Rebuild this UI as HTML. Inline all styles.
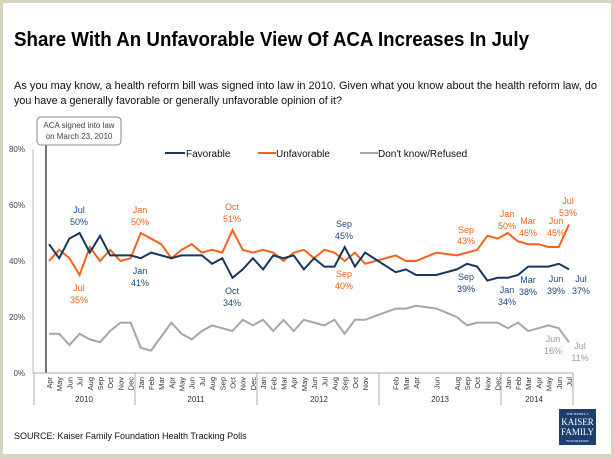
<!DOCTYPE html>
<html><head><meta charset="utf-8"><style>
body{margin:0;background:#fff}
svg{display:block;font-family:"Liberation Sans",sans-serif}
</style></head><body>
<svg width="614" height="459" viewBox="0 0 614 459" xmlns="http://www.w3.org/2000/svg">
<rect x="0" y="0" width="614" height="459" fill="#d8d3c0"/>
<rect x="3" y="3" width="608" height="451" fill="#fff"/>
<text x="14" y="46" font-size="20" font-weight="bold" fill="#000" textLength="515" lengthAdjust="spacingAndGlyphs">Share With An Unfavorable View Of ACA Increases In July</text>
<text x="14" y="89" font-size="11" fill="#111" textLength="583" lengthAdjust="spacingAndGlyphs">As you may know, a health reform bill was signed into law in 2010. Given what you know about the health reform law, do</text>
<text x="14" y="104" font-size="11" fill="#111" textLength="328" lengthAdjust="spacingAndGlyphs">you have a generally favorable or generally unfavorable opinion of it?</text>
<rect x="37" y="117" width="84" height="28" rx="4" fill="#fff" stroke="#888" stroke-width="1"/>
<text x="79" y="128" font-size="8" fill="#444" text-anchor="middle">ACA signed into law</text>
<text x="79" y="139" font-size="8" fill="#444" text-anchor="middle">on March 23, 2010</text>
<line x1="46" y1="145" x2="46" y2="373" stroke="#777" stroke-width="2"/>
<g font-size="8" fill="#444" text-anchor="end">
<text x="25" y="152">80%</text><text x="25" y="208">60%</text><text x="25" y="264">40%</text><text x="25" y="320">20%</text><text x="25" y="376">0%</text>
</g>
<line x1="33" y1="149" x2="33" y2="373" stroke="#bbb"/>
<line x1="33" y1="373" x2="573" y2="373" stroke="#aaa"/>
<g stroke="#aaa"><line x1="34" y1="373" x2="34" y2="405"/><line x1="135" y1="373" x2="135" y2="405"/><line x1="257" y1="373" x2="257" y2="405"/><line x1="379" y1="373" x2="379" y2="405"/><line x1="501" y1="373" x2="501" y2="405"/><line x1="573" y1="373" x2="573" y2="405"/></g>
<g font-size="8" fill="#333" text-anchor="middle">
<text x="84" y="402">2010</text><text x="196" y="402">2011</text><text x="319" y="402">2012</text><text x="440" y="402">2013</text><text x="534" y="402">2014</text>
</g>
<g id="months" font-size="7.5" fill="#333" text-anchor="end"></g>
<g font-size="10" fill="#111">
<line x1="165" y1="153" x2="185" y2="153" stroke="#17375e" stroke-width="2"/><text x="186" y="157">Favorable</text>
<line x1="258" y1="153" x2="276" y2="153" stroke="#f4621c" stroke-width="2"/><text x="276" y="157">Unfavorable</text>
<line x1="360" y1="153" x2="378" y2="153" stroke="#a6a6a6" stroke-width="2"/><text x="378" y="157">Don't know/Refused</text>
</g>
<polyline id="g" fill="none" stroke="#a6a6a6" stroke-width="2"/>
<polyline id="u" fill="none" stroke="#f4621c" stroke-width="2"/>
<polyline id="f" fill="none" stroke="#17375e" stroke-width="2"/>
<g font-size="9" text-anchor="middle">
<g fill="#1f497d">
<text x="79" y="213">Jul</text><text x="79" y="225">50%</text>
<text x="140" y="274">Jan</text><text x="140" y="286">41%</text>
<text x="232" y="294">Oct</text><text x="232" y="306">34%</text>
<text x="344" y="227">Sep</text><text x="344" y="239">45%</text>
<text x="466" y="280">Sep</text><text x="466" y="292">39%</text>
<text x="507" y="293">Jan</text><text x="507" y="305">34%</text>
<text x="528" y="283">Mar</text><text x="528" y="295">38%</text>
<text x="556" y="282">Jun</text><text x="556" y="294">39%</text>
<text x="581" y="282">Jul</text><text x="581" y="294">37%</text>
</g>
<g fill="#f4621c">
<text x="79" y="291">Jul</text><text x="79" y="303">35%</text>
<text x="140" y="213">Jan</text><text x="140" y="225">50%</text>
<text x="232" y="210">Oct</text><text x="232" y="222">51%</text>
<text x="344" y="277">Sep</text><text x="344" y="289">40%</text>
<text x="466" y="233">Sep</text><text x="466" y="244">43%</text>
<text x="507" y="217">Jan</text><text x="507" y="229">50%</text>
<text x="528" y="224">Mar</text><text x="528" y="236">46%</text>
<text x="556" y="224">Jun</text><text x="556" y="236">45%</text>
<text x="568" y="204">Jul</text><text x="568" y="216">53%</text>
</g>
<g fill="#999">
<text x="553" y="342">Jun</text><text x="553" y="354">16%</text>
<text x="580" y="349">Jul</text><text x="580" y="361">11%</text>
</g>
</g>
<text x="14" y="439" font-size="9" fill="#111">SOURCE: Kaiser Family Foundation Health Tracking Polls</text>
<rect x="559" y="409" width="37" height="36" fill="#1c3f6e"/>
<g fill="#fff" font-family="Liberation Serif,serif" text-anchor="middle">
<text x="577.5" y="415" font-size="3.5">THE HENRY J.</text>
<text x="577.5" y="425" font-size="9">KAISER</text>
<text x="577.5" y="435" font-size="9">FAMILY</text>
<text x="577.5" y="442" font-size="3.5">FOUNDATION</text>
</g>
<script>
var F=[46,41,48,50,43,49,42,42,42,41,43,42,41,42,42,42,39,41,34,37,41,37,42,41,42,37,41,38,38,45,38,43,null,null,36,37,35,null,35,null,37,39,38,33,34,34,35,38,38,38,39,37];
var U=[40,44,41,35,45,40,44,40,41,50,48,46,41,44,46,43,44,43,51,44,43,44,43,40,43,44,41,44,43,40,43,39,null,null,42,40,40,null,43,null,42,43,44,49,48,50,47,46,46,45,45,53];
var G=[14,14,10,14,12,11,15,18,18,9,8,13,18,14,12,15,17,16,15,19,17,19,15,19,15,19,18,17,19,14,19,19,null,null,23,23,24,null,23,null,20,17,18,18,18,16,18,15,16,17,16,11];
function X(i){return 49+i*10.196}function Y(v){return 373-v*2.8}
function pts(a){var s=[];a.forEach(function(v,i){if(v!==null)s.push(X(i).toFixed(1)+","+Y(v).toFixed(1))});return s.join(" ")}
document.getElementById("f").setAttribute("points",pts(F));
document.getElementById("u").setAttribute("points",pts(U));
document.getElementById("g").setAttribute("points",pts(G));
var M=["Apr","May","Jun","Jul","Aug","Sep","Oct","Nov","Dec","Jan","Feb","Mar","Apr","May","Jun","Jul","Aug","Sep","Oct","Nov","Dec","Jan","Feb","Mar","Apr","May","Jun","Jul","Aug","Sep","Oct","Nov","","","Feb","Mar","Apr","","Jun","","Aug","Sep","Oct","Nov","Dec","Jan","Feb","Mar","Apr","May","Jun","Jul"];
var g=document.getElementById("months"),ns="http://www.w3.org/2000/svg";
M.forEach(function(m,i){if(!m)return;var t=document.createElementNS(ns,"text");var x=X(i)+3;t.setAttribute("transform","translate("+x+",377) rotate(-90)");t.textContent=m;g.appendChild(t);});
</script>
</svg>
</body></html>
